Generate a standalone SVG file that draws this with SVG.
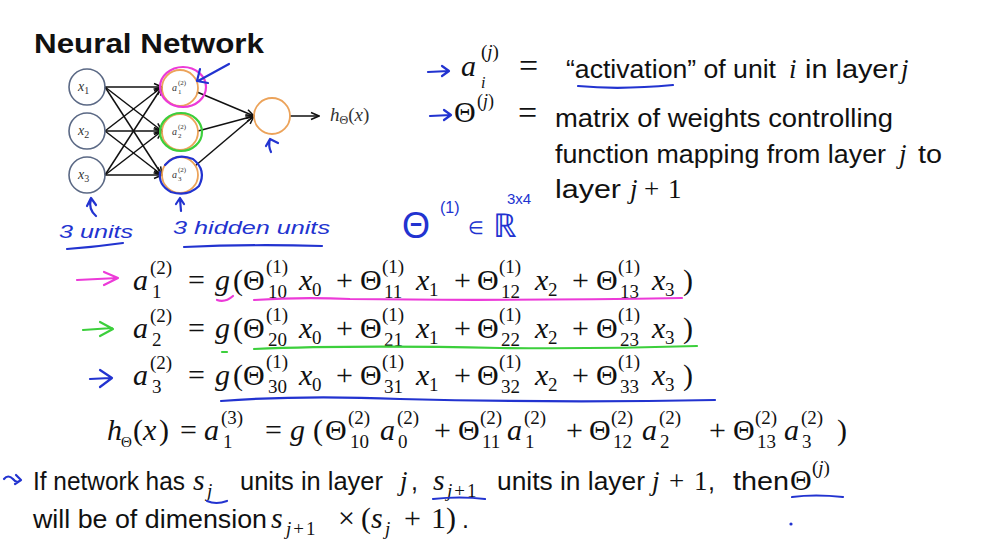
<svg xmlns="http://www.w3.org/2000/svg" width="986" height="555" viewBox="0 0 986 555">
<defs>
<style>
.bg{fill:#ffffff}
.t{font-family:"Liberation Sans",Arial,sans-serif;font-size:25px;fill:#111}
.tb{font-family:"Liberation Sans",Arial,sans-serif;font-size:28px;font-weight:bold;fill:#111}
.m{font-family:"Liberation Serif","Times New Roman",serif;font-size:30px;fill:#111}
.i{font-style:italic}
.s{font-size:19px}
.ss{font-size:15px}
.nl{font-family:"Liberation Serif",serif;fill:#333}
.in{fill:none;stroke:#5b6985;stroke-width:1.6}
.hid{fill:none;stroke:#eca35a;stroke-width:1.8}
.e{fill:none;stroke:#111;stroke-width:1.5}
.hand{fill:none;stroke-width:2.2;stroke-linecap:round;stroke-linejoin:round}
.blue{stroke:#2233d0}
.pink{stroke:#ec3ad8}
.green{stroke:#3ccf3c}
.ht{font-family:"Liberation Sans",Arial,sans-serif;fill:#2233d0}
</style>
<marker id="ah" markerWidth="10" markerHeight="10" refX="9" refY="5" orient="auto" markerUnits="userSpaceOnUse">
<path d="M1,1.5 L9,5 L1,8.5" fill="none" stroke="#111" stroke-width="1.5"/>
</marker>
</defs>
<rect class="bg" x="0" y="0" width="986" height="555"/>

<text class="tb" x="34" y="53" textLength="230" lengthAdjust="spacingAndGlyphs">Neural Network</text>

<g id="connectors">
<path class="e" marker-end="url(#ah)" d="M105,87 L162,87"/>
<path class="e" marker-end="url(#ah)" d="M105,87 L162,131"/>
<path class="e" marker-end="url(#ah)" d="M105,87 L162,175"/>
<path class="e" marker-end="url(#ah)" d="M105,131 L162,87"/>
<path class="e" marker-end="url(#ah)" d="M105,131 L162,131"/>
<path class="e" marker-end="url(#ah)" d="M105,131 L162,175"/>
<path class="e" marker-end="url(#ah)" d="M105,175 L162,87"/>
<path class="e" marker-end="url(#ah)" d="M105,175 L162,131"/>
<path class="e" marker-end="url(#ah)" d="M105,175 L162,175"/>
<path class="e" marker-end="url(#ah)" d="M197,92 L254,116"/>
<path class="e" marker-end="url(#ah)" d="M198,131 L254,116"/>
<path class="e" marker-end="url(#ah)" d="M195,166 L254,116"/>
<path class="e" marker-end="url(#ah)" d="M290,116 L319,116"/>
</g>

<g id="x1"><circle class="in" cx="87" cy="87" r="18"/><text class="nl i" x="78" y="91" font-size="14">x<tspan font-style="normal" font-size="10" dy="3">1</tspan></text></g>
<g id="x2"><circle class="in" cx="87" cy="131" r="18"/><text class="nl i" x="78" y="135" font-size="14">x<tspan font-style="normal" font-size="10" dy="3">2</tspan></text></g>
<g id="x3"><circle class="in" cx="87" cy="175" r="18"/><text class="nl i" x="78" y="179" font-size="14">x<tspan font-style="normal" font-size="10" dy="3">3</tspan></text></g>

<g id="a1"><circle class="hid" cx="180" cy="88" r="18"/><text class="nl i" x="172" y="91" font-size="10">a</text><text class="nl" x="178" y="85" font-size="7">(2)</text><text class="nl" x="178" y="94" font-size="7">1</text>
<ellipse class="hand pink" cx="183" cy="87" rx="23" ry="20" stroke-width="2.4"/></g>
<g id="a2"><circle class="hid" cx="180" cy="132" r="18"/><text class="nl i" x="172" y="135" font-size="10">a</text><text class="nl" x="178" y="129" font-size="7">(2)</text><text class="nl" x="178" y="138" font-size="7">2</text>
<ellipse class="hand green" cx="181" cy="132" rx="21" ry="19" stroke-width="2.6"/></g>
<g id="a3"><circle class="hid" cx="180" cy="175" r="18"/><text class="nl i" x="172" y="178" font-size="10">a</text><text class="nl" x="178" y="172" font-size="7">(2)</text><text class="nl" x="178" y="181" font-size="7">3</text>
<path class="hand blue" d="M165,165 Q176,152 193,159 Q207,170 199,186 Q188,197 171,192 Q158,185 160,172"/></g>
<g id="out"><circle class="hid" cx="272" cy="116" r="18"/></g>
<g id="hout"><text class="nl i" x="330" y="121" font-size="19" fill="#333">h<tspan font-style="normal" font-size="12" dy="3">Θ</tspan><tspan font-style="normal" dy="-3">(</tspan>x<tspan font-style="normal">)</tspan></text></g>

<g id="handnotes">
<path class="hand blue" d="M229,64 L198,81 M200,69 L197,81 L208,83"/>
<path class="hand blue" d="M271,152 Q268,146 270,139 M266,146 L270,139 L278,143"/>
<path class="hand blue" d="M87,206 L91,198 L96,205 M91,199 Q88,209 96,216"/>
<path class="hand blue" d="M176,204 L180,198 L184,204 M180,199 L181,211"/>
<text class="ht" x="59" y="238" font-size="19" font-style="italic" textLength="74" lengthAdjust="spacingAndGlyphs">3 units</text>
<path class="hand blue" d="M67,249 Q95,247 123,243"/>
<text class="ht" x="173" y="234" font-size="19" font-style="italic" textLength="157" lengthAdjust="spacingAndGlyphs">3 hidden units</text>
<path class="hand blue" d="M184,247 Q250,244 322,246"/>
<text class="ht" x="402" y="238" font-size="36">Θ</text>
<text class="ht" x="440" y="213" font-size="16">(1)</text>
<text class="ht" x="468" y="234" font-size="18">∈</text>
<text class="ht" x="493" y="237" font-size="33">ℝ</text>
<text class="ht" x="507" y="204" font-size="15">3x4</text>
</g>

<g id="def1">
<path class="hand blue" d="M428,72 L449,71 M442,66 L449,71 L442,76"/>
<text class="m i" x="461" y="76">a</text><text class="m s" x="481" y="58">(<tspan font-style="italic">j</tspan>)</text><text class="m i" x="481" y="88" style="font-size:16px">i</text>
<text class="m" x="519" y="77" style="font-size:34px">=</text>
<text class="t" x="566" y="78" textLength="210" lengthAdjust="spacingAndGlyphs">“activation” of unit</text>
<text class="m i" x="789" y="78" style="font-size:27px">i</text>
<text class="t" x="805" y="78" textLength="93" lengthAdjust="spacingAndGlyphs">in layer</text>
<text class="m i" x="901" y="78" style="font-size:27px">j</text>
<path class="hand blue" d="M578,86 Q620,90 673,85"/>
</g>

<g id="def2">
<path class="hand blue" d="M430,116 L451,115 M444,110 L451,115 L444,120"/>
<text class="m" x="454" y="122">Θ</text><text class="m" x="477" y="107" style="font-size:18px">(<tspan font-style="italic">j</tspan>)</text>
<text class="m" x="518" y="124" style="font-size:34px">=</text>
<text class="t" x="555" y="127" textLength="338" lengthAdjust="spacingAndGlyphs">matrix of weights controlling</text>
<text class="t" x="555" y="163" textLength="331" lengthAdjust="spacingAndGlyphs">function mapping from layer</text>
<text class="m i" x="899" y="163" style="font-size:27px">j</text>
<text class="t" x="918" y="163" textLength="24" lengthAdjust="spacingAndGlyphs">to</text>
<text class="t" x="555" y="198" textLength="66" lengthAdjust="spacingAndGlyphs">layer</text>
<text class="m i" x="630" y="198" style="font-size:27px">j</text><text class="m" x="644" y="198" style="font-size:27px">+</text><text class="m" x="668" y="198" style="font-size:27px">1</text>
</g>

<g id="eq1">
<path class="hand pink" d="M77,280 L118,278 M104,272 L118,278 L104,285"/>
<text class="m i" x="133" y="290">a</text><text class="m s" x="150" y="274">(2)</text><text class="m s" x="152" y="298">1</text>
<text class="m" x="188" y="290">=</text>
<text class="m i" x="215" y="290">g</text><text class="m" x="233" y="290">(</text>
<text class="m" x="243" y="290">Θ</text><text class="m s" x="266" y="273">(1)</text><text class="m s" x="268" y="298">10</text>
<text class="m i" x="299" y="290">x</text><text class="m s" x="312" y="296">0</text>
<text class="m" x="336" y="290">+</text>
<text class="m" x="360" y="290">Θ</text><text class="m s" x="382" y="273">(1)</text><text class="m s" x="384" y="298">11</text>
<text class="m i" x="416" y="290">x</text><text class="m s" x="429" y="296">1</text>
<text class="m" x="454" y="290">+</text>
<text class="m" x="477" y="290">Θ</text><text class="m s" x="499" y="273">(1)</text><text class="m s" x="501" y="298">12</text>
<text class="m i" x="535" y="290">x</text><text class="m s" x="548" y="296">2</text>
<text class="m" x="572" y="290">+</text>
<text class="m" x="596" y="290">Θ</text><text class="m s" x="618" y="273">(1)</text><text class="m s" x="620" y="298">13</text>
<text class="m i" x="652" y="290">x</text><text class="m s" x="665" y="296">3</text>
<text class="m" x="683" y="290">)</text>
<path class="hand pink" d="M217,300 Q225,303 233,296" stroke-width="1.8"/>
<path class="hand pink" d="M254,300 Q300,297 350,299 Q500,301 682,298" stroke-width="1.8"/>
</g>

<g id="eq2">
<path class="hand green" d="M83,330 L112,328 M100,322 L113,329 L100,336"/>
<text class="m i" x="133" y="338">a</text><text class="m s" x="150" y="322">(2)</text><text class="m s" x="152" y="346">2</text>
<text class="m" x="188" y="338">=</text>
<text class="m i" x="215" y="338">g</text><text class="m" x="233" y="338">(</text>
<text class="m" x="243" y="338">Θ</text><text class="m s" x="266" y="321">(1)</text><text class="m s" x="268" y="346">20</text>
<text class="m i" x="299" y="338">x</text><text class="m s" x="312" y="344">0</text>
<text class="m" x="336" y="338">+</text>
<text class="m" x="360" y="338">Θ</text><text class="m s" x="382" y="321">(1)</text><text class="m s" x="384" y="346">21</text>
<text class="m i" x="416" y="338">x</text><text class="m s" x="429" y="344">1</text>
<text class="m" x="454" y="338">+</text>
<text class="m" x="477" y="338">Θ</text><text class="m s" x="499" y="321">(1)</text><text class="m s" x="501" y="346">22</text>
<text class="m i" x="535" y="338">x</text><text class="m s" x="548" y="344">2</text>
<text class="m" x="572" y="338">+</text>
<text class="m" x="596" y="338">Θ</text><text class="m s" x="618" y="321">(1)</text><text class="m s" x="620" y="346">23</text>
<text class="m i" x="652" y="338">x</text><text class="m s" x="665" y="344">3</text>
<text class="m" x="683" y="338">)</text>
<path class="hand green" d="M222,352 L227,352" stroke-width="1.8"/>
<path class="hand green" d="M254,349 Q350,345 500,348 Q600,349 697,346" stroke-width="1.8"/>
</g>

<g id="eq3">
<path class="hand blue" d="M90,379 L110,378 M100,370 L112,378 L100,387"/>
<text class="m i" x="133" y="385">a</text><text class="m s" x="150" y="369">(2)</text><text class="m s" x="152" y="393">3</text>
<text class="m" x="188" y="385">=</text>
<text class="m i" x="215" y="385">g</text><text class="m" x="233" y="385">(</text>
<text class="m" x="243" y="385">Θ</text><text class="m s" x="266" y="368">(1)</text><text class="m s" x="268" y="393">30</text>
<text class="m i" x="299" y="385">x</text><text class="m s" x="312" y="391">0</text>
<text class="m" x="336" y="385">+</text>
<text class="m" x="360" y="385">Θ</text><text class="m s" x="382" y="368">(1)</text><text class="m s" x="384" y="393">31</text>
<text class="m i" x="416" y="385">x</text><text class="m s" x="429" y="391">1</text>
<text class="m" x="454" y="385">+</text>
<text class="m" x="477" y="385">Θ</text><text class="m s" x="499" y="368">(1)</text><text class="m s" x="501" y="393">32</text>
<text class="m i" x="535" y="385">x</text><text class="m s" x="548" y="391">2</text>
<text class="m" x="572" y="385">+</text>
<text class="m" x="596" y="385">Θ</text><text class="m s" x="618" y="368">(1)</text><text class="m s" x="620" y="393">33</text>
<text class="m i" x="652" y="385">x</text><text class="m s" x="665" y="391">3</text>
<text class="m" x="683" y="385">)</text>
<path class="hand blue" d="M221,401 Q300,395 400,399 Q560,403 715,400" stroke-width="1.8"/>
</g>

<g id="eq4">
<text class="m i" x="107" y="440">h</text><text class="m ss" x="121" y="447">Θ</text>
<text class="m" x="133" y="440">(</text><text class="m i" x="143" y="440">x</text><text class="m" x="159" y="440">)</text>
<text class="m" x="180" y="440">=</text>
<text class="m i" x="204" y="440">a</text><text class="m s" x="221" y="424">(3)</text><text class="m s" x="223" y="448">1</text>
<text class="m" x="265" y="440">=</text>
<text class="m i" x="290" y="440">g</text><text class="m" x="313" y="440">(</text>
<text class="m" x="325" y="440">Θ</text><text class="m s" x="348" y="424">(2)</text><text class="m s" x="350" y="448">10</text>
<text class="m i" x="380" y="440">a</text><text class="m s" x="397" y="424">(2)</text><text class="m s" x="398" y="448">0</text>
<text class="m" x="434" y="440">+</text>
<text class="m" x="458" y="440">Θ</text><text class="m s" x="480" y="424">(2)</text><text class="m s" x="482" y="448">11</text>
<text class="m i" x="507" y="440">a</text><text class="m s" x="524" y="424">(2)</text><text class="m s" x="525" y="448">1</text>
<text class="m" x="566" y="440">+</text>
<text class="m" x="589" y="440">Θ</text><text class="m s" x="611" y="424">(2)</text><text class="m s" x="613" y="448">12</text>
<text class="m i" x="642" y="440">a</text><text class="m s" x="659" y="424">(2)</text><text class="m s" x="660" y="448">2</text>
<text class="m" x="709" y="440">+</text>
<text class="m" x="733" y="440">Θ</text><text class="m s" x="755" y="424">(2)</text><text class="m s" x="757" y="448">13</text>
<text class="m i" x="784" y="440">a</text><text class="m s" x="801" y="424">(2)</text><text class="m s" x="802" y="448">3</text>
<text class="m" x="837" y="440">)</text>
</g>

<g id="bottom">
<path class="hand blue" d="M4,479 Q8,474 13,479 Q17,484 21,480 M16,475 L21,480 L15,484" stroke-width="1.8"/>
<text class="t" x="33" y="490" textLength="152" lengthAdjust="spacingAndGlyphs">If network has</text>
<text class="m i" x="193" y="490">s</text><text class="m s i" x="207" y="497">j</text>
<text class="t" x="240" y="490" textLength="143" lengthAdjust="spacingAndGlyphs">units in layer</text>
<text class="m i" x="400" y="490" style="font-size:27px">j</text><text class="t" x="411" y="490">,</text>
<text class="m i" x="433" y="490">s</text><text class="m s" x="447" y="497" letter-spacing="2"><tspan font-style="italic">j</tspan>+1</text>
<text class="t" x="497" y="490" textLength="148" lengthAdjust="spacingAndGlyphs">units in layer</text>
<text class="m i" x="652" y="490" style="font-size:27px">j</text><text class="m" x="669" y="490" style="font-size:27px">+</text><text class="m" x="694" y="490" style="font-size:27px">1</text><text class="t" x="708" y="490">,</text>
<text class="t" x="733" y="490" textLength="56" lengthAdjust="spacingAndGlyphs">then</text>
<text class="m" x="790" y="490">Θ</text><text class="m s" x="812" y="474">(<tspan font-style="italic">j</tspan>)</text>
<path class="hand blue" d="M207,501 Q216,505 227,501" stroke-width="1.8"/>
<path class="hand blue" d="M433,499 Q460,496 485,499" stroke-width="1.8"/>
<path class="hand blue" d="M792,497 Q815,494 843,497" stroke-width="1.8"/>
<circle cx="791" cy="524" r="1.6" fill="#2233d0"/>
<text class="t" x="33" y="528" textLength="234" lengthAdjust="spacingAndGlyphs">will be of dimension</text>
<text class="m i" x="271" y="528">s</text><text class="m s" x="286" y="535" letter-spacing="2"><tspan font-style="italic">j</tspan>+1</text>
<text class="m" x="338" y="528">×</text>
<text class="m" x="361" y="528">(</text><text class="m i" x="371" y="528">s</text><text class="m s i" x="385" y="535">j</text>
<text class="m" x="404" y="528">+</text><text class="m" x="431" y="528">1</text><text class="m" x="446" y="528">)</text><text class="t" x="462" y="528">.</text>
</g>
</svg>
